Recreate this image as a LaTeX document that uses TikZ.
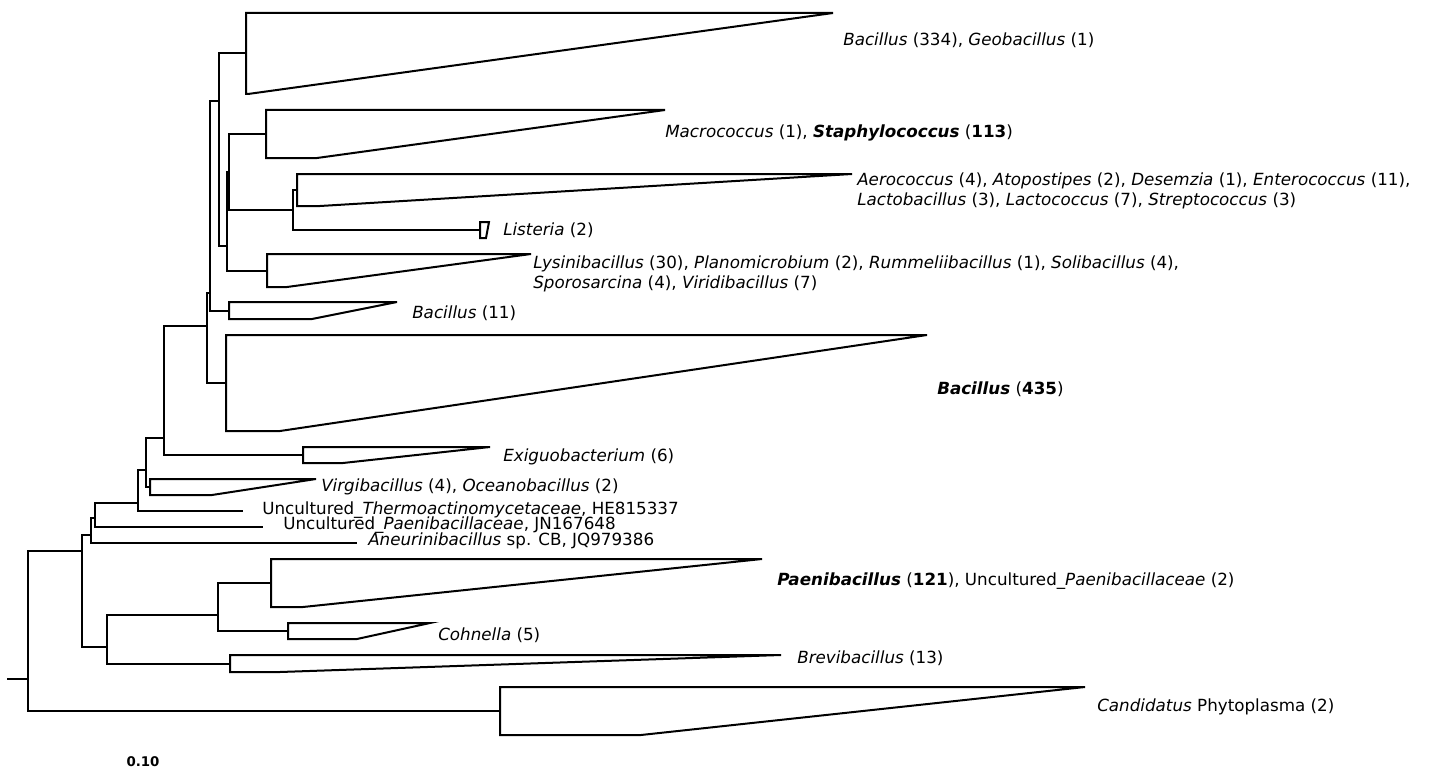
\documentclass[tikz,border=0pt]{standalone}
\usepackage{fontspec}
\setmainfont{DejaVu Sans}
\newcommand\cladetri[6]{% name, xleft, ytop, ybottom, xtip, xbreak
  \draw[clade] (#2,#3) -- (#5,#3) -- (#6,#4) -- (#2,#4) -- cycle;
  \coordinate (#1) at (#2,{(#3+#4)/2});}
\begin{document}
\begin{tikzpicture}[x=0.75pt,y=-0.75pt,
  branch/.style={line width=1.5pt, line join=miter},
  clade/.style={line width=1.5pt, line join=miter},
  lab/.style={anchor=west, inner sep=0pt, font=\fontsize{12.55}{15}\selectfont, align=left},
  scalelab/.style={inner sep=0pt, font=\fontsize{10}{12}\selectfont\bfseries}]
\useasboundingbox (0,0) rectangle (1429,774);

% collapsed clades
\cladetri{bacA}{246}{13}{94}{833}{248}
\cladetri{macro}{266}{110}{158}{665}{317}
\cladetri{aero}{297}{174}{206}{852}{320}
\cladetri{list}{480}{222}{238}{489}{486}
\cladetri{lys}{267}{254}{287}{531}{287}
\cladetri{bacB}{229}{302}{319}{397}{312}
\cladetri{bacC}{226}{335}{431}{927}{280}
\cladetri{exig}{303}{447}{463}{490}{343}
\cladetri{virg}{150}{479}{495}{316}{212}
\cladetri{paen}{271}{559}{607}{762}{303}
\cladetri{cohn}{288}{623}{639}{430}{357}
\cladetri{brev}{230}{655}{672}{781}{280}
\cladetri{cand}{500}{687}{735}{1085}{641}

% single leaves
\coordinate (thermo) at (243,511);
\coordinate (paenL) at (263,527);
\coordinate (aneu) at (357,543);

% internal nodes
\coordinate (nN) at (293,210);
\coordinate (nA) at (229,172);
\coordinate (nB) at (227,246);
\coordinate (nC) at (219,101);
\coordinate (nD) at (210,293);
\coordinate (nE) at (207,326);
\coordinate (nF) at (164,438);
\coordinate (nG) at (146,470);
\coordinate (nH) at (138,503);
\coordinate (nI) at (95,518);
\coordinate (nJ) at (91,535);
\coordinate (nM) at (218,615);
\coordinate (nL) at (107,647);
\coordinate (nK) at (82,551);
\coordinate (root) at (28,679);
\coordinate (stub) at (7,679);

\draw[branch] (aero) -| (nN) |- (list);
\draw[branch] (macro) -| (nA) |- (nN);
\draw[branch] (nA) -| (nB) |- (lys);
\draw[branch] (bacA) -| (nC) |- (nB);
\draw[branch] (nC) -| (nD) |- (bacB);
\draw[branch] (nD) -| (nE) |- (bacC);
\draw[branch] (nE) -| (nF) |- (exig);
\draw[branch] (nF) -| (nG) |- (virg);
\draw[branch] (nG) -| (nH) |- (thermo);
\draw[branch] (nH) -| (nI) |- (paenL);
\draw[branch] (nI) -| (nJ) |- (aneu);
\draw[branch] (paen) -| (nM) |- (cohn);
\draw[branch] (nM) -| (nL) |- (brev);
\draw[branch] (nJ) -| (nK) |- (nL);
\draw[branch] (nK) -| (root) |- (cand);
\draw[branch] (stub) -- (root);

% labels
\node[lab] (lbacA) at (843,40) {\textit{Bacillus} (334), \textit{Geobacillus} (1)};
\node[lab] (lmac) at (665,133) {\textit{Macrococcus} (1), \textbf{\textit{Staphylococcus}} (\textbf{113})};
\node[lab] (laero) at (857,191) {\textit{Aerococcus} (4), \textit{Atopostipes} (2), \textit{Desemzia} (1), \textit{Enterococcus} (11),\\\textit{Lactobacillus} (3), \textit{Lactococcus} (7), \textit{Streptococcus} (3)};
\node[lab] (llist) at (503,230) {\textit{Listeria} (2)};
\node[lab] (llys) at (533,274) {\textit{Lysinibacillus} (30), \textit{Planomicrobium} (2), \textit{Rummeliibacillus} (1), \textit{Solibacillus} (4),\\\textit{Sporosarcina} (4), \textit{Viridibacillus} (7)};
\node[lab] (lbacB) at (412,313) {\textit{Bacillus} (11)};
\node[lab] (lbacC) at (937,389) {\textbf{\textit{Bacillus}} (\textbf{435})};
\node[lab] (lexig) at (503,457) {\textit{Exiguobacterium} (6)};
\node[lab] (lvirg) at (321,487) {\textit{Virgibacillus} (4), \textit{Oceanobacillus} (2)};
\node[lab] (lthermo) at (262,510) {Uncultured\_\textit{Thermoactinomycetaceae}, HE815337};
\node[lab] (lpaenL) at (283,525) {Uncultured\_\textit{Paenibacillaceae}, JN167648};
\node[lab] (laneu) at (368,541) {\textit{Aneurinibacillus} sp. CB, JQ979386};
\node[lab] (lpaen) at (777,581) {\textbf{\textit{Paenibacillus}} (\textbf{121}), Uncultured\_\textit{Paenibacillaceae} (2)};
\node[lab] (lcohn) at (438,635) {\textit{Cohnella} (5)};
\node[lab] (lbrev) at (797,658) {\textit{Brevibacillus} (13)};
\node[lab] (lcand) at (1097,707) {\textit{Candidatus} Phytoplasma (2)};
\node[scalelab] (scale) at (143,762) {0.10};
\end{tikzpicture}
\end{document}
